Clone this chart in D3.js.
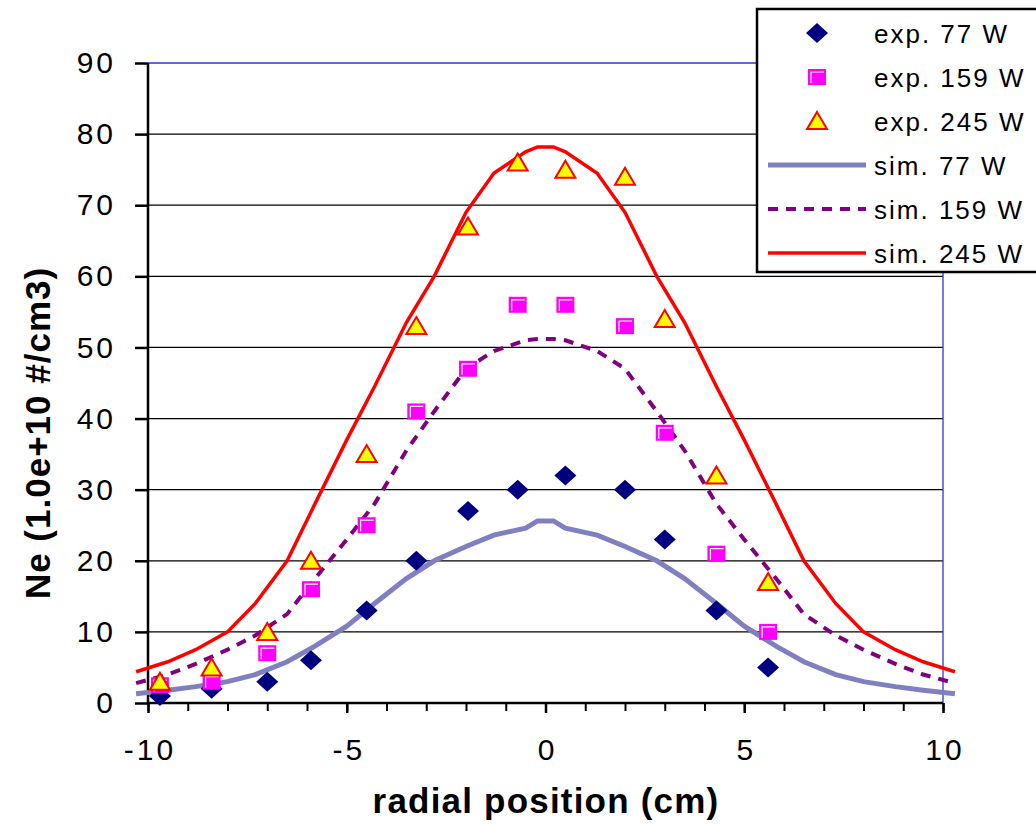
<html>
<head>
<script src="https://d3js.org/d3.v7.min.js" charset="utf-8"></script>
<style>
  body { margin: 0; background: #fff; }
  text { font-family: "Liberation Sans", Arial, sans-serif; }
</style>
</head>
<body>
<svg id="chart" width="1036" height="824"></svg>
<script>
// experimental points
var expX = [-9.7, -8.4, -7.0, -5.9, -4.5, -3.25, -1.95, -0.7, 0.5, 2.0, 3.0, 4.3, 5.6];
var exp77 = [1, 2, 3, 6, 13, 20, 27, 30, 32, 30, 23, 13, 5];
var exp159 = [2.5, 3, 7, 16, 25, 41, 47, 56, 56, 53, 38, 21, 10];
var exp245 = [3, 5, 10, 20, 35, 53, 67, 76, 75, 74, 54, 32, 17];

// simulation curves
var simX = [-10.3, -9.5, -8.8, -8, -7.3, -6.5, -5.8, -5, -4.3, -3.5, -2.8, -2, -1.3, -0.5, -0.2,
            0.2, 0.5, 1.3, 2, 2.8, 3.5, 4.3, 5, 5.8, 6.5, 7.3, 8, 8.8, 9.5, 10.3];
var sim77 = [1.3, 1.8, 2.3, 3, 4, 5.8, 8, 10.8, 14, 17.5, 20, 22, 23.6, 24.6, 25.6,
             25.6, 24.6, 23.6, 22, 20, 17.5, 14, 10.8, 8, 5.8, 4, 3, 2.3, 1.8, 1.3];
var sim159 = [2.8, 4, 5.5, 7.5, 9.5, 12.5, 17.5, 23, 28, 35.5, 41, 47, 49.5, 51, 51.2,
              51.2, 51, 49.5, 47, 41, 35.5, 28, 23, 17.5, 12.5, 9.5, 7.5, 5.5, 4, 2.8];
var sim245 = [4.4, 5.8, 7.5, 10, 14, 20, 28, 37, 44.5, 53.5, 60, 69, 74.5, 77.5, 78.2,
              78.2, 77.5, 74.5, 69, 60, 53.5, 44.5, 37, 28, 20, 14, 10, 7.5, 5.8, 4.4];

var xTicks = [-10, -5, 0, 5, 10];
var yTicks = [0, 10, 20, 30, 40, 50, 60, 70, 80, 90];
var legendLabels = ["exp. 77 W", "exp. 159 W", "exp. 245 W", "sim. 77 W", "sim. 159 W", "sim. 245 W"];

var svg = d3.select("#chart");

var x = d3.scaleLinear().domain([-10, 10]).range([148, 943]);
var y = d3.scaleLinear().domain([0, 90]).range([703, 63]);

// gridlines
svg.append("g").selectAll("line")
    .data(yTicks.slice(1, -1))
    .enter().append("line")
    .attr("x1", x(-10)).attr("x2", x(10))
    .attr("y1", function(d){ return y(d); })
    .attr("y2", function(d){ return y(d); })
    .attr("stroke", "#000").attr("stroke-width", 1.3);

// plot border (top + right) in blue
svg.append("line").attr("x1", x(-10)).attr("x2", x(10)).attr("y1", y(90)).attr("y2", y(90))
    .attr("stroke", "#3333cc").attr("stroke-width", 1.3);
svg.append("line").attr("x1", x(10)).attr("x2", x(10)).attr("y1", y(90)).attr("y2", y(0))
    .attr("stroke", "#3333cc").attr("stroke-width", 1.3);

// axes
var yAxis = d3.axisLeft(y).tickValues(yTicks).tickSize(13).tickPadding(19);
var gy = svg.append("g").attr("transform", "translate(" + x(-10) + ",0)").call(yAxis);
gy.select(".domain").attr("stroke-width", 2.5).attr("d", "M0," + y(90) + "V" + y(0));
gy.selectAll(".tick line").attr("stroke-width", 2.5);
gy.selectAll("text").attr("font-size", 30).attr("letter-spacing", 3)
    .style("font-family", "'Liberation Sans', Arial, sans-serif").attr("fill", "#000");

var minor = d3.range(-10, 11, 1);
var xAxisMinor = d3.axisBottom(x).tickValues(minor).tickSize(8).tickFormat("");
var gxm = svg.append("g").attr("transform", "translate(0," + y(0) + ")").call(xAxisMinor);
gxm.select(".domain").remove();
gxm.selectAll(".tick line").attr("stroke-width", 2);

var xAxis = d3.axisBottom(x).tickValues(xTicks).tickSize(10).tickPadding(26)
    .tickFormat(d3.format("d"));
var gx = svg.append("g").attr("transform", "translate(0," + y(0) + ")").call(xAxis);
gx.select(".domain").attr("stroke-width", 2.5).attr("d", "M" + x(-10) + ",0H" + x(10));
gx.selectAll(".tick line").attr("stroke-width", 2.5);
gx.selectAll("text").attr("font-size", 30).attr("letter-spacing", 3).attr("dx", 1.5)
    .style("font-family", "'Liberation Sans', Arial, sans-serif").attr("fill", "#000")
    .text(function(d){ return d < 0 ? "-" + Math.abs(d) : d; });

// axis titles
svg.append("text").attr("x", 546).attr("y", 813).attr("text-anchor", "middle")
    .attr("font-size", 35).attr("font-weight", "bold").attr("letter-spacing", 1.2)
    .text("radial position (cm)");
svg.append("text").attr("transform", "translate(50,433) rotate(-90)").attr("text-anchor", "middle")
    .attr("font-size", 35).attr("font-weight", "bold").attr("letter-spacing", 1)
    .text("Ne (1.0e+10 #/cm3)");

// simulation lines
var line = d3.line()
    .x(function(d){ return x(d[0]); })
    .y(function(d){ return y(d[1]); });
function pairs(xs, ys){ return xs.map(function(v, i){ return [v, ys[i]]; }); }

var simStyles = [
  {data: sim77, color: "#8080c0", width: 5, dash: null},
  {data: sim159, color: "#800080", width: 4, dash: "10,8"},
  {data: sim245, color: "#ff0000", width: 3.5, dash: null}
];
simStyles.forEach(function(s){
  svg.append("path").datum(pairs(simX, s.data))
    .attr("d", line).attr("fill", "none")
    .attr("stroke", s.color).attr("stroke-width", s.width)
    .attr("stroke-dasharray", s.dash);
});

// markers
function diamond(g){
  g.append("path").attr("d", "M0,-10L11,0L0,10L-11,0Z").attr("fill", "#000080");
}
function square(g){
  g.append("rect").attr("x", -9).attr("y", -8).attr("width", 18).attr("height", 16).attr("fill", "#ff00ff");
  g.append("path").attr("d", "M-6,6V-5H7").attr("fill", "none").attr("stroke", "#fff").attr("stroke-width", 1.2);
}
function triangle(g){
  g.append("path").attr("d", "M0,-9L10,8L-10,8Z").attr("fill", "#ffff00")
    .attr("stroke", "#ff0000").attr("stroke-width", 2).attr("stroke-linejoin", "miter");
}
var expSets = [{data: exp77, draw: diamond}, {data: exp159, draw: square}, {data: exp245, draw: triangle}];
expSets.forEach(function(s){
  svg.append("g").selectAll("g")
    .data(pairs(expX, s.data))
    .enter().append("g")
    .attr("transform", function(d){ return "translate(" + x(d[0]) + "," + y(d[1]) + ")"; })
    .each(function(){ s.draw(d3.select(this)); });
});

// legend
var lg = svg.append("g");
lg.append("rect").attr("x", 757).attr("y", 9).attr("width", 300).attr("height", 263)
    .attr("fill", "#fff").attr("stroke", "#000").attr("stroke-width", 2.5);
var rowY = d3.scaleLinear().domain([0, 5]).range([33, 253]);
legendLabels.forEach(function(lbl, i){
  var cy = rowY(i);
  if (i < 3) {
    var g = lg.append("g").attr("transform", "translate(817," + cy + ")");
    expSets[i].draw(g);
  } else {
    var s = simStyles[i - 3];
    lg.append("line").attr("x1", 768).attr("x2", 866).attr("y1", cy).attr("y2", cy)
      .attr("stroke", s.color).attr("stroke-width", s.width).attr("stroke-dasharray", s.dash);
  }
  lg.append("text").attr("x", 874).attr("y", cy + 10).attr("font-size", 26).attr("letter-spacing", 2)
    .text(lbl);
});
</script>
</body>
</html>
